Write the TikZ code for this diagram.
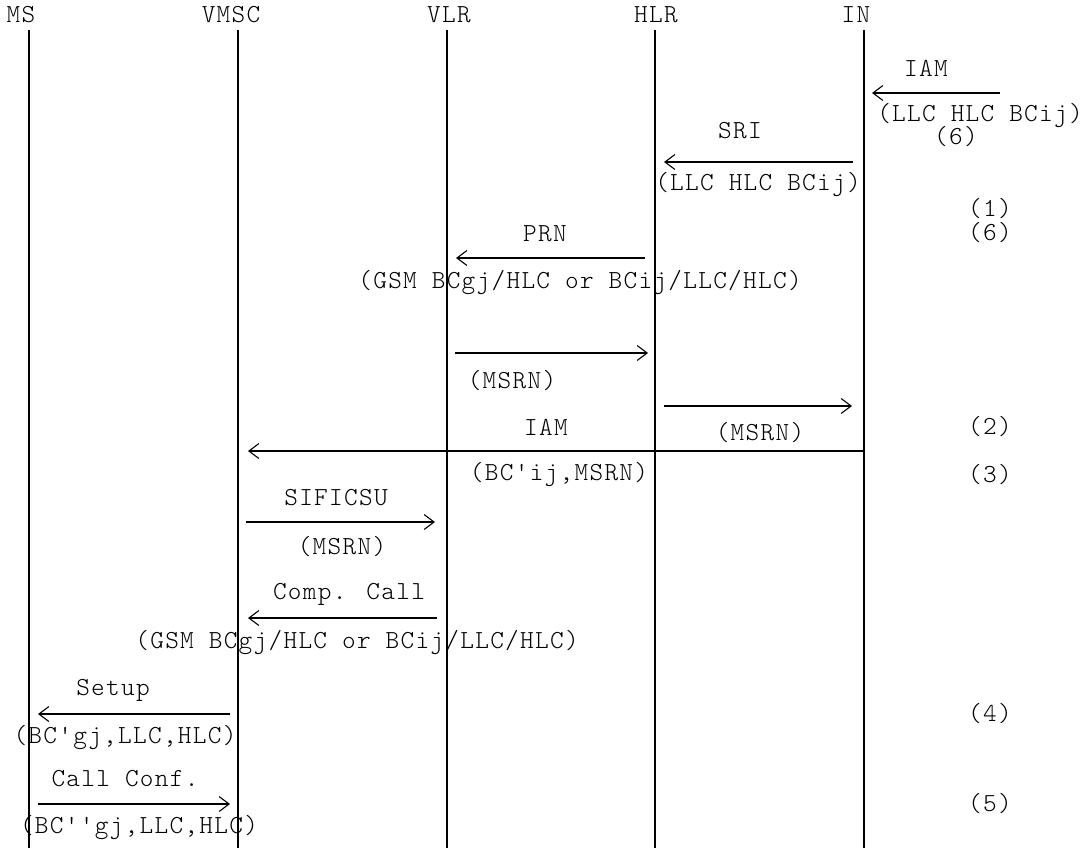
\documentclass[tikz,border=0pt]{standalone}
\usepackage{fontspec}
\newfontfamily\courfont{Latin Modern Mono Light}[LetterSpace=5]
\usetikzlibrary{arrows.meta}
\tikzset{
  lbl/.style={font=\courfont\fontsize{26}{30}\selectfont, inner sep=0pt, anchor=center},
  life/.style={line width=1.6pt, line cap=butt},
  msg/.style={line width=1.6pt, -{Straight Barb[length=10pt,width=15pt,line width=1.1pt]}},
}
\begin{document}
\begin{tikzpicture}[x=1pt,y=-1pt]
\useasboundingbox (0,0) rectangle (1090,848);
% headers
\node[lbl] (ms)   at (21,15)  {MS};
\node[lbl] (vmsc) at (231,15) {VMSC};
\node[lbl] (vlr)  at (449,15) {VLR};
\node[lbl] (hlr)  at (656,15) {HLR};
\node[lbl] (in)   at (856,15) {IN};
% lifelines
\coordinate (msT) at (29,30);   \coordinate (msB) at (29,848);
\coordinate (vmT) at (238,30);  \coordinate (vmB) at (238,848);
\coordinate (vlT) at (447,30);  \coordinate (vlB) at (447,848);
\coordinate (hlT) at (655,30);  \coordinate (hlB) at (655,848);
\coordinate (inT) at (864,30);  \coordinate (inB) at (864,848);
\draw[life] (msT) -- (msB);
\draw[life] (vmT) -- (vmB);
\draw[life] (vlT) -- (vlB);
\draw[life] (hlT) -- (hlB);
\draw[life] (inT) -- (inB);
% IAM into IN
\coordinate (m1s) at (1000,93); \coordinate (m1e) at (872,93);
\draw[msg] (m1s) -- (m1e);
\node[lbl] (t1) at (926,68) {IAM};
\node[lbl] (t1b) at (980,116) {(LLC HLC BCij)};
\node[lbl] (n6a) at (956,137) {(6)};
% SRI
\coordinate (m2s) at (853,162); \coordinate (m2e) at (664,162);
\draw[msg] (m2s) -- (m2e);
\node[lbl] (t2) at (740,131) {SRI};
\node[lbl] (t2b) at (758,185) {(LLC HLC BCij)};
\node[lbl] (n1) at (990,209) {(1)};
\node[lbl] (n6b) at (990,233) {(6)};
% PRN
\coordinate (m3s) at (645,258); \coordinate (m3e) at (456,258);
\draw[msg] (m3s) -- (m3e);
\node[lbl] (t3) at (545,234) {PRN};
\node[lbl] (t3b) at (580,283) {(GSM BCgj/HLC or BCij/LLC/HLC)};
% MSRN VLR->HLR
\coordinate (m4s) at (455,353); \coordinate (m4e) at (648,353);
\draw[msg] (m4s) -- (m4e);
\node[lbl] (t4b) at (512,381) {(MSRN)};
% MSRN HLR->IN
\coordinate (m5s) at (664,406); \coordinate (m5e) at (852,406);
\draw[msg] (m5s) -- (m5e);
\node[lbl] (t5b) at (760,433) {(MSRN)};
\node[lbl] (n2) at (990,427) {(2)};
% IAM IN->VMSC
\coordinate (m6s) at (864,451); \coordinate (m6e) at (248,451);
\draw[msg] (m6s) -- (m6e);
\node[lbl] (t6) at (546,427) {IAM};
\node[lbl] (t6b) at (559,475) {(BC'ij,MSRN)};
\node[lbl] (n3) at (990,475) {(3)};
% SIFICSU
\coordinate (m7s) at (246,522); \coordinate (m7e) at (435,522);
\draw[msg] (m7s) -- (m7e);
\node[lbl] (t7) at (336,498) {SIFICSU};
\node[lbl] (t7b) at (342,547) {(MSRN)};
% Comp. Call
\coordinate (m8s) at (437,618); \coordinate (m8e) at (248,618);
\draw[msg] (m8s) -- (m8e);
\node[lbl] (t8) at (349,594) {Comp. Call};
\node[lbl] (t8b) at (357,643) {(GSM BCgj/HLC or BCij/LLC/HLC)};
% Setup
\coordinate (m9s) at (230,714); \coordinate (m9e) at (38,714);
\draw[msg] (m9s) -- (m9e);
\node[lbl] (t9) at (113,690) {Setup};
\node[lbl] (t9b) at (125,738) {(BC'gj,LLC,HLC)};
\node[lbl] (n4) at (990,714) {(4)};
% Call Conf.
\coordinate (m10s) at (38,804); \coordinate (m10e) at (230,804);
\draw[msg] (m10s) -- (m10e);
\node[lbl] (t10) at (125,779) {Call Conf.};
\node[lbl] (t10b) at (139,828) {(BC''gj,LLC,HLC)};
\node[lbl] (n5) at (990,804) {(5)};
\end{tikzpicture}
\end{document}
